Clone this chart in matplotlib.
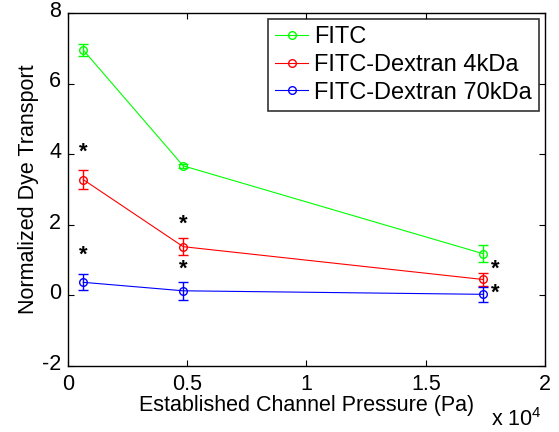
import numpy as np
import matplotlib
matplotlib.use("Agg")
import matplotlib.pyplot as plt
from matplotlib.lines import Line2D
from matplotlib.transforms import ScaledTranslation

# Data (pressure in Pa)
pressure = np.array([640, 4830, 17410])
fitc = np.array([6.95, 3.67, 1.18])
fitc_err = np.array([0.18, 0.06, 0.24])
dex4 = np.array([3.28, 1.38, 0.45])
dex4_err = np.array([0.26, 0.24, 0.19])
dex70 = np.array([0.37, 0.13, 0.03])
dex70_err = np.array([0.23, 0.26, 0.22])
labels = ["FITC", "FITC-Dextran 4kDa", "FITC-Dextran 70kDa"]

# significance stars (x in Pa, y)
star_x = [640, 640, 4830, 4830, 17900, 17900]
star_y = [4.05, 1.13, 2.03, 0.73, 0.73, 0.05]

plt.rcParams['font.family'] = ['Liberation Sans', 'DejaVu Sans']
plt.rcParams['axes.unicode_minus'] = False
fs = 15.5

fig = plt.figure(figsize=(5.59, 4.32), dpi=100)
ax = fig.add_axes([0.1216, 0.1528, 0.975 - 0.1216, 0.970 - 0.1528])

series = [(fitc, fitc_err, '#00ff00'), (dex4, dex4_err, '#ff0000'), (dex70, dex70_err, '#0000ff')]
handles = []
for (y, e, c), lab in zip(series, labels):
    ax.errorbar(pressure / 1e4, y, yerr=e, color=c, marker='o', mfc='none', mec=c,
                ms=5.5, lw=0.8, elinewidth=1.0, capsize=3.5, capthick=1.0)
    handles.append(Line2D([], [], color=c, marker='o', mfc='none', mec=c, ms=5.5, lw=0.8))

for sx, sy in zip(star_x, star_y):
    ax.text(sx / 1e4, sy, '*', fontsize=16, fontweight='bold', ha='center', va='center')

ax.set_xlim(0, 2)
ax.set_ylim(-2, 8)
ax.set_xticks([0, 0.5, 1, 1.5, 2])
ax.set_xticklabels(['0', '0.5', '1', '1.5', '2'])
ax.set_yticks([-2, 0, 2, 4, 6, 8])
ax.tick_params(direction='in', top=True, right=True, length=4, width=0.8, labelsize=fs)
ax.tick_params(axis='x', pad=6)
ax.tick_params(axis='y', pad=5)
for lbl in ax.get_yticklabels():
    lbl.set_transform(lbl.get_transform() + ScaledTranslation(0, 3 / 72, fig.dpi_scale_trans))
for sp in ax.spines.values():
    sp.set_linewidth(1.0)

ax.set_xlabel('Established Channel Pressure (Pa)', fontsize=fs, labelpad=0)
ax.set_ylabel('Normalized Dye Transport', fontsize=fs, labelpad=2)
fig.text(0.923, 0.014, r'x $\mathregular{10^4}$', fontsize=fs, ha='center', va='baseline')

leg = ax.legend(handles, labels, loc='upper right', fontsize=17, frameon=True, fancybox=False,
                edgecolor='black', handlelength=1.4, handletextpad=0.25,
                borderaxespad=0.25, borderpad=0.3, labelspacing=0.25)
leg.get_frame().set_linewidth(1.2)

fig.savefig('out.png', dpi=100)
